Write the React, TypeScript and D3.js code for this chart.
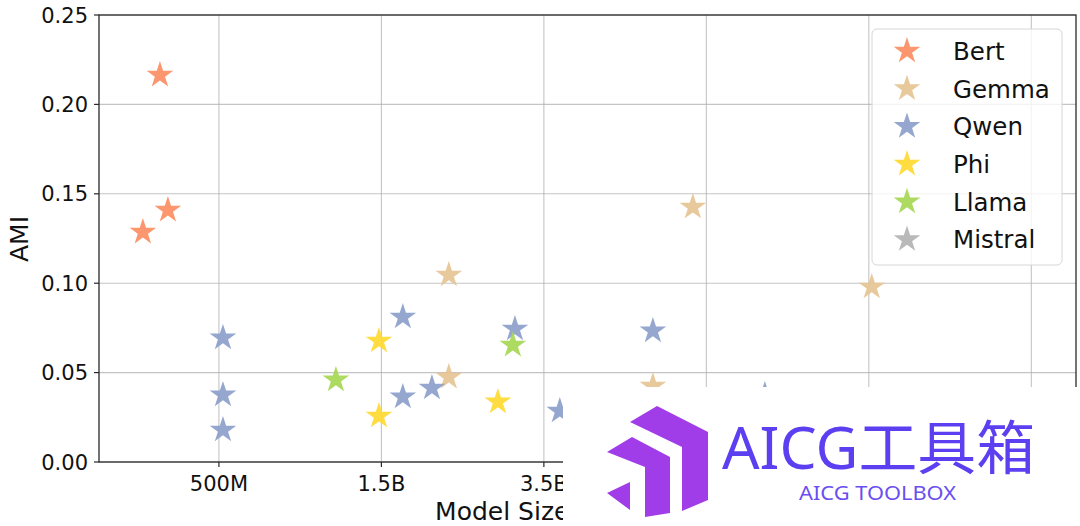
import * as d3 from 'd3'

// x positions are in tick units: 0 = 500M, 1 = 1.5B, 2 = 3.5B ...
// only the first three tick labels are readable, the rest sit under the watermark
const xTickLabels = ['500M', '1.5B', '3.5B']
const xTickCount = 6
const yTicks = [0, 0.05, 0.1, 0.15, 0.2, 0.25]

const families = ['Bert', 'Gemma', 'Qwen', 'Phi', 'Llama', 'Mistral']
const colors = ['#fc8d62', '#e5c494', '#8da0cb', '#ffd92f', '#a6d854', '#b3b3b3']

const bertX = [-0.363, -0.314, -0.468]
const bertY = [0.2164, 0.1409, 0.1286]
const gemmaX = [1.415, 1.415, 2.917, 4.018, 2.671]
const gemmaY = [0.1046, 0.0475, 0.1426, 0.0979, 0.0425]
const qwenX = [0.025, 0.025, 0.025, 1.132, 1.132, 1.311, 1.822, 2.671, 2.098, 3.36]
const qwenY = [0.0694, 0.0375, 0.0179, 0.0811, 0.0364, 0.0414, 0.0744, 0.0733, 0.0285, 0.0375]
const phiX = [0.985, 0.985, 1.717]
const phiY = [0.0677, 0.0257, 0.0336]
const llamaX = [0.72, 1.809]
const llamaY = [0.0459, 0.0654]
const mistralX: number[] = []
const mistralY: number[] = []

const seriesX = [bertX, gemmaX, qwenX, phiX, llamaX, mistralX]
const seriesY = [bertY, gemmaY, qwenY, phiY, llamaY, mistralY]

const W = 1080
const H = 526
const left = 99
const right = 1076
const top = 15
const bottom = 462

export default function App() {
  const x = d3.scaleLinear().domain([-0.738, 5.275]).range([left, right])
  const y = d3.scaleLinear().domain([0, 0.25]).range([bottom, top])
  const star = d3.symbol(d3.symbolStar, 220)()
  const font = 'DejaVu Sans, sans-serif'
  const xTicks = d3.range(xTickCount)

  const legendX = 872
  const legendY = 29

  return (
    <svg
      width={W}
      height={H}
      style={{ position: 'absolute', left: 0, top: 0, background: '#fff' }}
      fontFamily={font}
    >
      <rect x={0} y={0} width={W} height={H} fill='#fff' />
      {/* grid */}
      {xTicks.map(i => (
        <line key={'gx' + i} x1={x(i)} x2={x(i)} y1={top} y2={bottom} stroke='#b0b0b0' strokeOpacity={0.75} strokeWidth={1.1} />
      ))}
      {yTicks.map(t => (
        <line key={'gy' + t} x1={left} x2={right} y1={y(t)} y2={y(t)} stroke='#b0b0b0' strokeOpacity={0.75} strokeWidth={1.1} />
      ))}

      {/* points */}
      {seriesX.map((xs, s) =>
        xs.map((xv, i) => (
          <path
            key={families[s] + i}
            d={star!}
            transform={`translate(${x(xv)},${y(seriesY[s][i])})`}
            fill={colors[s]}
            fillOpacity={0.92}
          />
        ))
      )}

      {/* spines */}
      <rect x={left} y={top} width={right - left} height={bottom - top} fill='none' stroke='#2a2a2a' strokeWidth={1.3} />

      {/* ticks */}
      {yTicks.map(t => (
        <g key={'ty' + t}>
          <line x1={left - 5} x2={left} y1={y(t)} y2={y(t)} stroke='#2a2a2a' strokeWidth={1.2} />
          <text x={left - 11} y={y(t)} dy='0.36em' textAnchor='end' fontSize={21} fill='#111'>
            {t.toFixed(2)}
          </text>
        </g>
      ))}
      {xTicks.map(i => (
        <line key={'tk' + i} x1={x(i)} x2={x(i)} y1={bottom} y2={bottom + 5} stroke='#2a2a2a' strokeWidth={1.2} />
      ))}
      {xTickLabels.map((lab, i) => (
        <text key={'tx' + i} x={x(i)} y={bottom + 29} textAnchor='middle' fontSize={21} fill='#111'>
          {lab}
        </text>
      ))}

      <text x={(left + right) / 2} y={520} textAnchor='middle' fontSize={25} fill='#111'>
        Model Size (Parameters)
      </text>
      <text transform={`translate(28,239) rotate(-90)`} textAnchor='middle' fontSize={25} fill='#111'>
        AMI
      </text>

      {/* legend */}
      <rect x={legendX} y={legendY} width={190} height={236} rx={5} fill='#fff' fillOpacity={0.8} stroke='#d6d6d6' />
      {families.map((f, i) => (
        <g key={'lg' + f} transform={`translate(${legendX}, ${legendY + 22 + i * 37.7})`}>
          <path d={star!} transform='translate(35,0)' fill={colors[i]} fillOpacity={0.92} />
          <text x={81} dy='0.36em' fontSize={24.5} fill='#111'>
            {f}
          </text>
        </g>
      ))}

      {/* watermark overlay */}
      <rect x={563} y={387} width={W - 563} height={H - 387} fill='#fff' />
      <g fill='#a03ce8'>
        <polygon points='630,422 657,406 708,432 708,500 682,511 682,447' />
        <polygon points='607,452 632,437 670,457 670,513 645,517 645,467' />
        <polygon points='607,493 630,482 630,510' />
      </g>
      <text x={722} y={469} fontSize={58} textLength={313} lengthAdjust='spacingAndGlyphs' fill='#5b3ff0' fontFamily='Noto Sans, Noto Sans CJK SC, sans-serif'>
        AICG工具箱
      </text>
      <text x={799} y={500} fontSize={19} textLength={157} lengthAdjust='spacingAndGlyphs' fill='#6a4ef0' fontFamily='Noto Sans, sans-serif'>
        AICG TOOLBOX
      </text>
    </svg>
  )
}
